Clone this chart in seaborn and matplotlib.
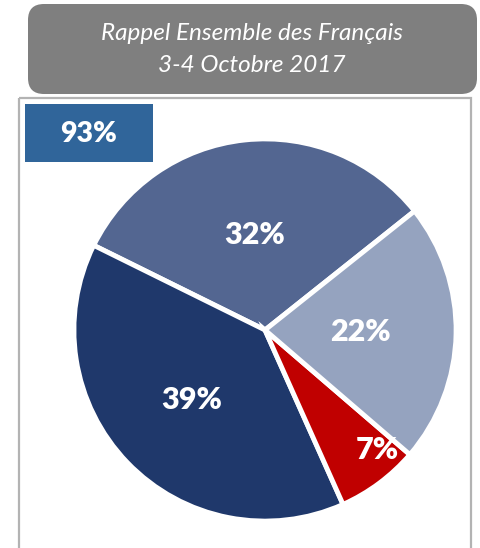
import matplotlib
matplotlib.use("Agg")
import matplotlib.pyplot as plt
import seaborn as sns
import numpy as np
from matplotlib.patches import FancyBboxPatch, Rectangle

sns.set_theme(style="white")
plt.rcParams['font.family'] = ['Lato', 'DejaVu Sans']

# Data
labels = ["32%", "39%", "7%", "22%"]
values = [32, 39, 7, 22]
colors = ["#536691", "#1f386b", "#c00000", "#95a3bf"]
title_lines = ["Rappel Ensemble des Français", "3-4 Octobre 2017"]
total_label = "93%"

W, H = 480, 548
fig = plt.figure(figsize=(W / 100, H / 100), dpi=100)

# Decoration layer in pixel coords
bg = fig.add_axes([0, 0, 1, 1])
bg.set_xlim(0, W)
bg.set_ylim(H, 0)
bg.axis("off")

title_box = FancyBboxPatch((28, 4), 449, 90, boxstyle="round,pad=0,rounding_size=16",
                           facecolor="#7f7f7f", edgecolor="none")
bg.add_patch(title_box)
bg.text(252, 33, title_lines[0], color="white", fontsize=17.5, style="italic",
        ha="center", va="center")
bg.text(252, 66, title_lines[1], color="white", fontsize=17.5, style="italic",
        ha="center", va="center")

frame = Rectangle((19, 98), 452, 480, facecolor="none", edgecolor="#b3b3b3", lw=1.6)
bg.add_patch(frame)

box93 = Rectangle((25, 104), 128, 58, facecolor="#30659a", edgecolor="none")
bg.add_patch(box93)
bg.text(89, 134, total_label, color="white", fontsize=20.5, fontweight="heavy",
        ha="center", va="center")

# Pie
R = 193
cx, cy = 265, 330
ax = fig.add_axes([(cx - R) / W, (H - cy - R) / H, 2 * R / W, 2 * R / H])
wedges, _ = ax.pie(values, colors=colors, startangle=38.5, counterclock=True,
                   radius=1, wedgeprops=dict(edgecolor="white", linewidth=3.5))
ax.set_xlim(-1.01, 1.01)
ax.set_ylim(-1.01, 1.01)
ax.axis("off")

label_r = [0.50, 0.53, 0.86, 0.50]
label_frac = [0.5, 0.5, 0.76, 0.5]
for w, lab, r, f in zip(wedges, labels, label_r, label_frac):
    ang = np.deg2rad(w.theta1 + f * (w.theta2 - w.theta1))
    ax.text(r * np.cos(ang), r * np.sin(ang), lab, color="white", fontsize=22,
            fontweight="heavy", ha="center", va="center")

fig.savefig("out.png", dpi=100)
